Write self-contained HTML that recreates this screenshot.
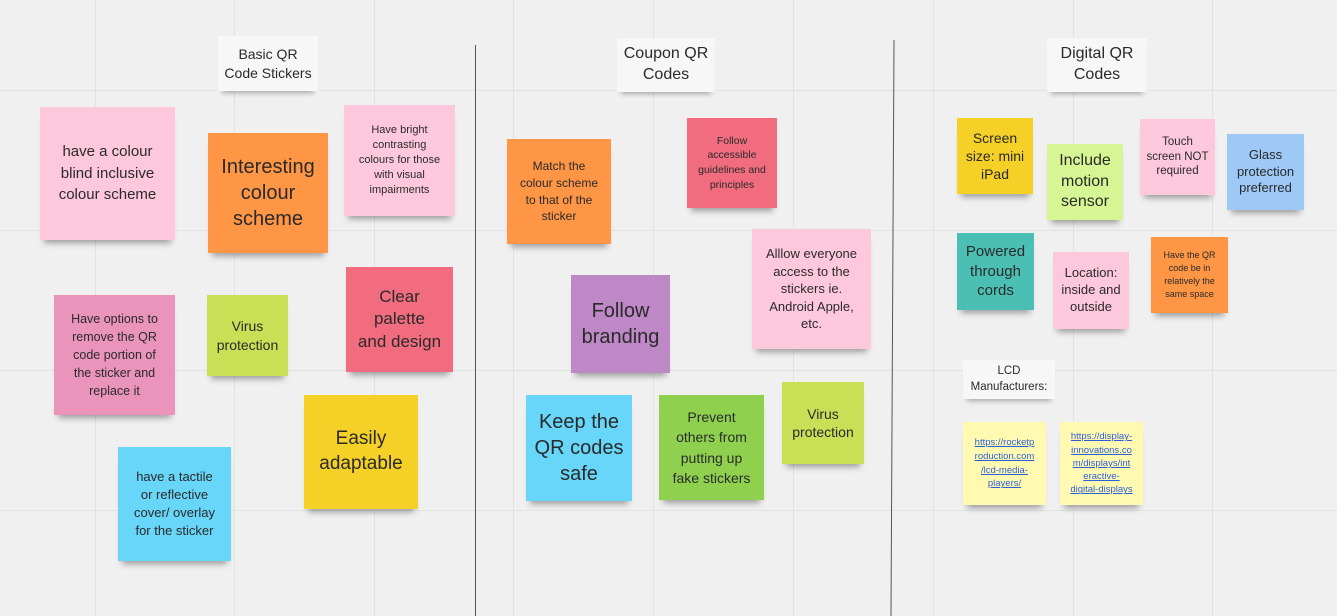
<!DOCTYPE html>
<html><head><meta charset="utf-8"><style>
body{margin:0;width:1337px;height:616px;overflow:hidden;background:#f0f0f0;font-family:"Liberation Sans",sans-serif;position:relative}
.g{position:absolute;background:#e2e2e2}
.n{position:absolute;display:flex;align-items:center;justify-content:center;text-align:center;color:#2a2a2a;box-shadow:0 7px 6px -4px rgba(0,0,0,0.35);line-height:1.3;box-sizing:border-box;padding:2px;white-space:nowrap}
.l{background:#f7f7f7;box-shadow:0 6px 5px -4px rgba(0,0,0,0.3)}
.d{position:absolute;width:1px;background:#555}
a{color:#2f5fd8;text-decoration:underline}
</style></head><body>
<div class="g" style="left:95px;top:0;width:1px;height:616px"></div>
<div class="g" style="left:234px;top:0;width:1px;height:616px"></div>
<div class="g" style="left:374px;top:0;width:1px;height:616px"></div>
<div class="g" style="left:513px;top:0;width:1px;height:616px"></div>
<div class="g" style="left:653px;top:0;width:1px;height:616px"></div>
<div class="g" style="left:793px;top:0;width:1px;height:616px"></div>
<div class="g" style="left:933px;top:0;width:1px;height:616px"></div>
<div class="g" style="left:1073px;top:0;width:1px;height:616px"></div>
<div class="g" style="left:1212px;top:0;width:1px;height:616px"></div>
<div class="g" style="left:0;top:90px;width:1337px;height:1px"></div>
<div class="g" style="left:0;top:230px;width:1337px;height:1px"></div>
<div class="g" style="left:0;top:370px;width:1337px;height:1px"></div>
<div class="g" style="left:0;top:510px;width:1337px;height:1px"></div>
<div class="d" style="left:475px;top:45px;height:571px"></div>
<div class="d" style="left:892px;top:40px;height:576px;transform:rotate(0.3deg)"></div>

<div class="n l" style="left:218px;top:36px;width:100px;height:55px;font-size:14px">Basic QR<br>Code Stickers</div>
<div class="n l" style="left:617px;top:38px;width:98px;height:54px;font-size:16px">Coupon QR<br>Codes</div>
<div class="n l" style="left:1047px;top:38px;width:100px;height:54px;font-size:16px">Digital QR<br>Codes</div>

<div class="n" style="left:40px;top:107px;width:135px;height:133px;background:#fec8dc;font-size:15px;line-height:1.45">have a colour<br>blind inclusive<br>colour scheme</div>
<div class="n" style="left:208px;top:133px;width:120px;height:120px;background:#fe9646;font-size:20px">Interesting<br>colour<br>scheme</div>
<div class="n" style="left:344px;top:105px;width:111px;height:111px;background:#fec8dc;font-size:11px;line-height:1.35">Have bright<br>contrasting<br>colours for those<br>with visual<br>impairments</div>
<div class="n" style="left:346px;top:267px;width:107px;height:105px;background:#f16c7f;font-size:17px">Clear<br>palette<br>and design</div>
<div class="n" style="left:54px;top:295px;width:121px;height:120px;background:#ea94bb;font-size:12.5px;line-height:1.45">Have options to<br>remove the QR<br>code portion of<br>the sticker and<br>replace it</div>
<div class="n" style="left:207px;top:295px;width:81px;height:81px;background:#c9df56;font-size:14px">Virus<br>protection</div>
<div class="n" style="left:304px;top:395px;width:114px;height:114px;background:#f5d128;font-size:19px">Easily<br>adaptable</div>
<div class="n" style="left:118px;top:447px;width:113px;height:114px;background:#67d6f8;font-size:13px;line-height:1.4">have a tactile<br>or reflective<br>cover/ overlay<br>for the sticker</div>

<div class="n" style="left:507px;top:139px;width:104px;height:105px;background:#fe9646;font-size:12px;line-height:1.4">Match the<br>colour scheme<br>to that of the<br>sticker</div>
<div class="n" style="left:687px;top:118px;width:90px;height:90px;background:#f16c7f;font-size:10.5px;line-height:1.4">Follow<br>accessible<br>guidelines and<br>principles</div>
<div class="n" style="left:752px;top:229px;width:119px;height:120px;background:#fec8dc;font-size:13px;line-height:1.35">Alllow everyone<br>access to the<br>stickers ie.<br>Android Apple,<br>etc.</div>
<div class="n" style="left:571px;top:275px;width:99px;height:98px;background:#be88c7;font-size:20px">Follow<br>branding</div>
<div class="n" style="left:526px;top:395px;width:106px;height:106px;background:#67d6f8;font-size:20px">Keep the<br>QR codes<br>safe</div>
<div class="n" style="left:659px;top:395px;width:105px;height:105px;background:#8fd14f;font-size:14px;line-height:1.45">Prevent<br>others from<br>putting up<br>fake stickers</div>
<div class="n" style="left:782px;top:382px;width:82px;height:82px;background:#c9df56;font-size:14px">Virus<br>protection</div>

<div class="n" style="left:957px;top:118px;width:76px;height:76px;background:#f5d128;font-size:14px">Screen<br>size: mini<br>iPad</div>
<div class="n" style="left:1047px;top:144px;width:76px;height:76px;background:#d5f692;font-size:16px">Include<br>motion<br>sensor</div>
<div class="n" style="left:1140px;top:119px;width:75px;height:76px;background:#fec8dc;font-size:11.5px">Touch<br>screen NOT<br>required</div>
<div class="n" style="left:1227px;top:134px;width:77px;height:76px;background:#9ec8f5;font-size:13px">Glass<br>protection<br>preferred</div>
<div class="n" style="left:957px;top:233px;width:77px;height:77px;background:#4bbfb3;font-size:15px">Powered<br>through<br>cords</div>
<div class="n" style="left:1053px;top:252px;width:76px;height:77px;background:#fec8dc;font-size:13px">Location:<br>inside and<br>outside</div>
<div class="n" style="left:1151px;top:237px;width:77px;height:76px;background:#fe9646;font-size:9px;line-height:1.45">Have the QR<br>code be in<br>relatively the<br>same space</div>
<div class="n l" style="left:963px;top:360px;width:92px;height:39px;font-size:11.5px;line-height:1.35">LCD<br>Manufacturers:</div>
<div class="n" style="left:963px;top:422px;width:83px;height:83px;background:#fff9b1;font-size:9.5px;line-height:1.45"><a>https://rocketp<br>roduction.com<br>/lcd-media-<br>players/</a></div>
<div class="n" style="left:1060px;top:422px;width:83px;height:83px;background:#fff9b1;font-size:9.5px;line-height:1.4"><a>https://display-<br>innovations.co<br>m/displays/int<br>eractive-<br>digital-displays</a></div>
</body></html>
